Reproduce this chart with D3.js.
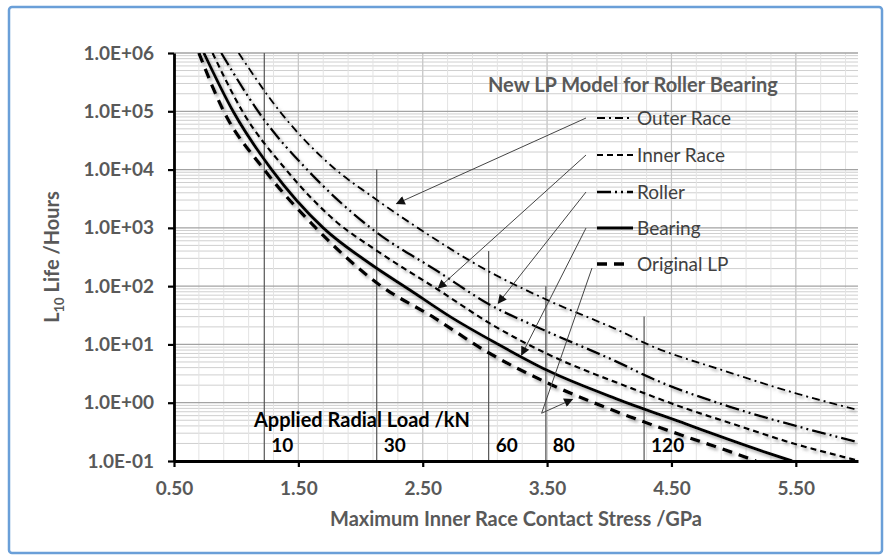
<!DOCTYPE html>
<html>
<head>
<meta charset="utf-8">
<script src="https://cdn.jsdelivr.net/npm/d3@7"></script>
<style>
body { margin: 0; background: #fff; }
svg { display: block; font-family: Lato, "Open Sans", sans-serif; }
</style>
</head>
<body>
<svg></svg>
<script>
// stress (GPa) and L10 life (hours)
var xTicks = [0.5, 1.5, 2.5, 3.5, 4.5, 5.5];
var yTicks = [1e-1, 1e0, 1e1, 1e2, 1e3, 1e4, 1e5, 1e6];

var outerS = [1.02, 1.35, 1.80, 2.08, 2.46, 3.05, 3.50, 4.14, 4.28, 4.93, 5.50, 6.00];
var outerL = [1e6, 1e5, 1e4, 3.6e3, 1e3, 1.7e2, 5.8e1, 1.5e1, 1.07e1, 3.5, 1.45, 0.75];

var innerS = [0.81, 1.05, 1.40, 1.80, 2.12, 2.63, 3.07, 3.50, 4.14, 4.62, 4.97, 5.48, 5.88, 6.00];
var innerL = [1e6, 1e5, 1e4, 1.3e3, 4.2e2, 8.5e1, 2.1e1, 6.9, 1.9, 0.79, 0.45, 0.20, 0.118, 0.102];

var rollerS = [0.88, 1.226, 1.57, 2.10, 2.62, 3.04, 3.44, 4.11, 4.28, 4.97, 5.50, 6.00];
var rollerL = [1e6, 7.1e4, 1e4, 9.3e2, 1.8e2, 4.8e1, 1.9e1, 4.5, 3.0, 0.85, 0.40, 0.21];

var bearingS = [0.74, 0.975, 1.285, 1.70, 2.08, 2.40, 2.72, 3.09, 3.50, 4.09, 4.62, 4.97, 5.24, 5.47];
var bearingL = [1e6, 1e5, 1e4, 1e3, 2.4e2, 8.5e1, 3.0e1, 1.05e1, 3.6, 1.1, 0.43, 0.23, 0.145, 0.10];

var origS = [0.70, 0.90, 1.225, 1.64, 2.14, 2.60, 3.01, 3.52, 4.06, 4.62, 4.97, 5.18];
var origL = [1e6, 1e5, 1e4, 1e3, 1.1e2, 2.8e1, 7.6, 2.1, 0.70, 0.26, 0.145, 0.10];

var names = ["Outer Race", "Inner Race", "Roller", "Bearing", "Original LP"];

// applied radial load markers
var loadKN = [10, 30, 60, 80, 120];
var loadS = [1.226, 2.13, 3.03, 3.49, 4.28];
var loadTop = [1e6, 1e4, 4e2, 1e2, 3e1];

// where each legend arrow points
var tipS = [2.29, 2.625, 3.107, 3.295, 3.703];
var tipL = [2.6e3, 9.2e1, 5.1e1, 6.6, 1.14];
var bendS = 3.456, bendL = 0.66;   // Original LP arrow turns here

var width = 891, height = 560;
var pL = 174, pR = 858, pT = 53, pB = 461;

var svg = d3.select("svg").attr("width", width).attr("height", height);

svg.append("rect")
  .attr("x", 9).attr("y", 7).attr("width", 873).attr("height", 546)
  .attr("rx", 3)
  .attr("fill", "#fff").attr("stroke", "#6a9fd8").attr("stroke-width", 2.5);

var defs = svg.append("defs");
defs.append("clipPath").attr("id", "plot")
  .append("rect").attr("x", pL).attr("y", pT).attr("width", pR - pL).attr("height", pB - pT);
var f = defs.append("filter").attr("id", "shadow")
  .attr("x", "-20%").attr("y", "-20%").attr("width", "140%").attr("height", "140%");
f.append("feDropShadow").attr("dx", 2).attr("dy", 2.5).attr("stdDeviation", 1.8)
  .attr("flood-color", "#777").attr("flood-opacity", 0.6);
defs.append("marker").attr("id", "head")
  .attr("viewBox", "0 0 10 10").attr("refX", 9).attr("refY", 5)
  .attr("markerWidth", 12).attr("markerHeight", 9).attr("markerUnits", "userSpaceOnUse")
  .attr("orient", "auto")
  .append("path").attr("d", "M0,0L10,5L0,10Z").attr("fill", "#111");

var x = d3.scaleLinear().domain([0.5, 6]).range([pL, pR]);
var y = d3.scaleLog().domain([0.1, 1e6]).range([pB, pT]);

// gridlines
var grid = svg.append("g");
var minorY = [];
for (var e = -1; e < 6; e++) for (var m = 2; m < 10; m++) minorY.push(m * Math.pow(10, e));
grid.selectAll(".hmin").data(minorY).enter().append("line")
  .attr("x1", pL).attr("x2", pR)
  .attr("y1", d => y(d)).attr("y2", d => y(d))
  .attr("stroke", "#cfcfcf").attr("stroke-width", 1);
var minorX = d3.range(0, 28).map(i => 0.5 + i * 0.2);
grid.selectAll(".vmin").data(minorX).enter().append("line")
  .attr("x1", d => x(d)).attr("x2", d => x(d))
  .attr("y1", pT).attr("y2", pB)
  .attr("stroke", "#e3e3e3").attr("stroke-width", 1);
grid.selectAll(".vmaj").data(xTicks).enter().append("line")
  .attr("x1", d => x(d)).attr("x2", d => x(d))
  .attr("y1", pT).attr("y2", pB)
  .attr("stroke", "#c6c6c6").attr("stroke-width", 1.2);
grid.selectAll(".hmaj").data(yTicks).enter().append("line")
  .attr("x1", pL).attr("x2", pR)
  .attr("y1", d => y(d)).attr("y2", d => y(d))
  .attr("stroke", "#a3a3a3").attr("stroke-width", 1.3);

// load lines
svg.selectAll(".load").data(loadKN).enter().append("line")
  .attr("x1", (d, i) => x(loadS[i])).attr("x2", (d, i) => x(loadS[i]))
  .attr("y1", (d, i) => y(loadTop[i])).attr("y2", pB)
  .attr("stroke", "#555").attr("stroke-width", 1.2);

// curves
var styles = [
  {w: 1.9, dash: "8,4,2,4"},
  {w: 2.2, dash: "6,4"},
  {w: 2.3, dash: "14,4,2,4,2,4"},
  {w: 2.9, dash: null},
  {w: 3.3, dash: "10,7"}
];
var series = [
  d3.zip(outerS, outerL),
  d3.zip(innerS, innerL),
  d3.zip(rollerS, rollerL),
  d3.zip(bearingS, bearingL),
  d3.zip(origS, origL)
];
var line = d3.line().x(d => x(d[0])).y(d => y(d[1])).curve(d3.curveMonotoneX);
svg.append("g").attr("clip-path", "url(#plot)")
  .selectAll("path").data(series).enter().append("path")
  .attr("d", line)
  .attr("fill", "none").attr("stroke", "#000")
  .attr("stroke-width", (d, i) => styles[i].w)
  .attr("stroke-dasharray", (d, i) => styles[i].dash)
  .attr("filter", "url(#shadow)");

// axes
function sci(d) {
  var p = Math.round(Math.log10(d));
  return "1.0E" + (p < 0 ? "-" : "+") + String(Math.abs(p)).padStart(2, "0");
}
var ya = svg.append("g").attr("transform", "translate(" + pL + ",0)")
  .call(d3.axisLeft(y).tickValues(yTicks).tickFormat(sci).tickSize(6).tickSizeOuter(0).tickPadding(14));
var xa = svg.append("g").attr("transform", "translate(0," + pB + ")")
  .call(d3.axisBottom(x).tickValues(xTicks).tickFormat(d3.format(".2f")).tickSize(6).tickSizeOuter(0).tickPadding(15));
[ya, xa].forEach(function(a) {
  a.select(".domain").attr("stroke", "#000").attr("stroke-width", 2.8);
  a.selectAll(".tick line").attr("stroke", "#000").attr("stroke-width", 2.2);
  a.selectAll(".tick text").attr("fill", "#595959")
    .style("font-family", "Lato").style("font-size", "19px").style("font-weight", "bold");
});

svg.append("text")
  .attr("x", (pL + pR) / 2).attr("y", 526)
  .attr("text-anchor", "middle")
  .attr("fill", "#595959").style("font-size", "20px").style("font-weight", "bold")
  .text("Maximum Inner Race Contact Stress /GPa");

var yt = svg.append("text")
  .attr("transform", "translate(59," + (pT + pB) / 2 + ") rotate(-90)")
  .attr("text-anchor", "middle")
  .attr("fill", "#595959").style("font-size", "20px").style("font-weight", "bold");
yt.append("tspan").text("L");
yt.append("tspan").attr("dy", 5).style("font-size", "13px").text("10");
yt.append("tspan").attr("dy", -5).text(" Life /Hours");

// load labels
svg.append("text")
  .attr("x", 254).attr("y", 427)
  .attr("fill", "#000").style("font-size", "20px").style("font-weight", "bold")
  .text("Applied Radial Load /kN");
svg.selectAll(".kn").data(loadKN).enter().append("text")
  .attr("x", (d, i) => x(loadS[i]) + 7).attr("y", 452)
  .attr("fill", "#000").style("font-size", "19px").style("font-weight", "bold")
  .text(d => d);

// legend
svg.append("text")
  .attr("x", 488).attr("y", 92)
  .attr("fill", "#595959").style("font-size", "20px").style("font-weight", "bold")
  .text("New LP Model for Roller Bearing");

var legY = [118, 155, 192, 228, 264];
var leg = svg.selectAll(".leg").data(names).enter().append("g")
  .attr("transform", (d, i) => "translate(597," + legY[i] + ")");
leg.append("line")
  .attr("x1", 0).attr("x2", (d, i) => i == 4 ? 29 : 36)
  .attr("stroke", "#000")
  .attr("stroke-width", (d, i) => styles[i].w)
  .attr("stroke-dasharray", (d, i) => styles[i].dash);
leg.append("text")
  .attr("x", 40).attr("dy", "0.35em")
  .attr("fill", "#404040").style("font-size", "19px")
  .text(d => d);

// arrows from legend to curves
var arrows = svg.append("g").attr("stroke", "#444").attr("stroke-width", 1).attr("fill", "none");
names.forEach(function(n, i) {
  var sx = i == 4 ? 592 : 586, sy = legY[i] + (i == 4 ? 4 : 0);
  var pts = [[sx, sy]];
  if (i == 4) pts.push([x(bendS), y(bendL)]);
  pts.push([x(tipS[i]), y(tipL[i])]);
  arrows.append("path")
    .attr("d", d3.line()(pts))
    .attr("marker-end", "url(#head)");
});
</script>
</body>
</html>
